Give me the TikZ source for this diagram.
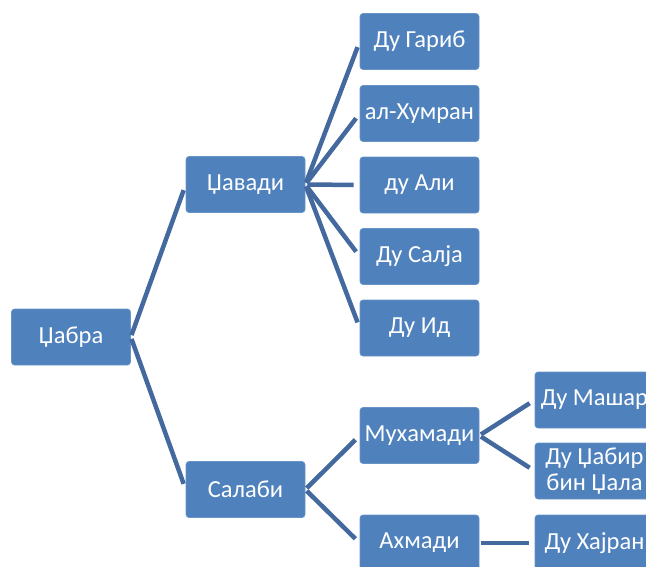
\documentclass[tikz,border=0pt]{standalone}
\usepackage{fontspec}
\setmainfont{Carlito}
\definecolor{boxblue}{HTML}{4F81BD}
\definecolor{linkblue}{HTML}{44699E}

\begin{document}
\begin{tikzpicture}[x=1pt, y=-1pt,
    leaf/.style={rectangle, rounded corners=3pt, fill=boxblue, draw=boxblue!85!white,
      line width=0.6pt, minimum width=119pt, minimum height=56pt, inner sep=1pt,
      text=white, align=center, font=\fontsize{24.5}{25.5}\selectfont},
    link/.style={line width=4.5pt, color=linkblue, shorten <=2pt, shorten >=6pt}]
      \clip (0,0) rectangle (646,566);
      % root and first level
      \node [leaf] (jabra)  at (71,337)    {Џабра};
      \node [leaf] (javadi) at (245.5,184.5) {Џавади};
      \node [leaf] (salabi) at (245.5,489.5) {Салаби};
      % children of javadi
      \node [leaf] (garib)  at (419.5,41.5)  {Ду Гариб};
      \node [leaf] (humran) at (419.5,113.5) {ал-Хумран};
      \node [leaf] (ali)    at (419.5,185)   {ду Али};
      \node [leaf] (salja)  at (419.5,256.5) {Ду Салја};
      \node [leaf] (id)     at (419.5,328)   {Ду Ид};
      % children of salabi
      \node [leaf] (muhamadi) at (419.5,435.5) {Мухамади};
      \node [leaf] (ahmadi)   at (419.5,543)   {Ахмади};
      % third level
      \node [leaf] (mashar) at (594.5,400) {Ду Машар};
      \node [leaf] (jabir)  at (594.5,471) {Ду Џабир\\бин Џала};
      \node [leaf] (hajran) at (594.5,543) {Ду Хајран};
      % connectors
      \draw [link] (jabra.east) -- (javadi.west);
      \draw [link] (jabra.east) -- (salabi.west);
      \draw [link] (javadi.east) -- (garib.west);
      \draw [link] (javadi.east) -- (humran.west);
      \draw [link] (javadi.east) -- (ali.west);
      \draw [link] (javadi.east) -- (salja.west);
      \draw [link] (javadi.east) -- (id.west);
      \draw [link] (salabi.east) -- (muhamadi.west);
      \draw [link] (salabi.east) -- (ahmadi.west);
      \draw [link] (muhamadi.east) -- (mashar.west);
      \draw [link] (muhamadi.east) -- (jabir.west);
      \draw [link] (ahmadi.east) -- (hajran.west);
\end{tikzpicture}
\end{document}
